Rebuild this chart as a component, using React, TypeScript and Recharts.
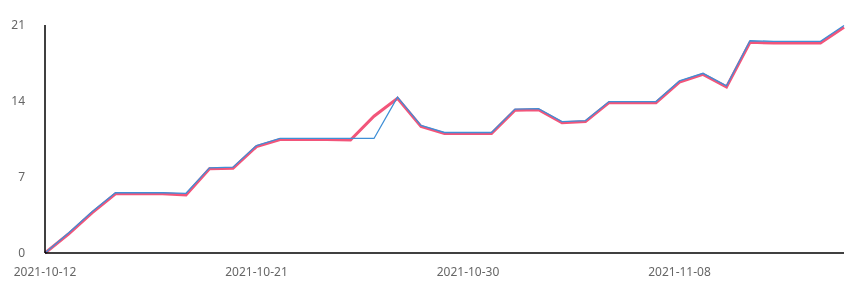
import { LineChart, Line, XAxis, YAxis } from "recharts"

const dates = [
    "2021-10-12", "2021-10-13", "2021-10-14", "2021-10-15", "2021-10-16", "2021-10-17", "2021-10-18",
    "2021-10-19", "2021-10-20", "2021-10-21", "2021-10-22", "2021-10-23", "2021-10-24", "2021-10-25",
    "2021-10-26", "2021-10-27", "2021-10-28", "2021-10-29", "2021-10-30", "2021-10-31", "2021-11-01",
    "2021-11-02", "2021-11-03", "2021-11-04", "2021-11-05", "2021-11-06", "2021-11-07", "2021-11-08",
    "2021-11-09", "2021-11-10", "2021-11-11", "2021-11-12", "2021-11-13", "2021-11-14", "2021-11-15",
]

// blue thin line
const blueValues = [
    0, 1.85, 3.8, 5.55, 5.55, 5.55, 5.5, 7.85, 7.9, 9.9, 10.55, 10.55, 10.55, 10.55,
    10.55, 14.35, 11.75, 11.1, 11.1, 11.1, 13.25, 13.3, 12.1, 12.2, 13.95, 13.95, 13.95, 15.85,
    16.55, 15.4, 19.55, 19.5, 19.5, 19.5, 20.95,
]

// pink thick line
const pinkValues = [
    0, 1.75, 3.7, 5.45, 5.45, 5.45, 5.35, 7.75, 7.8, 9.8, 10.45, 10.45, 10.45, 10.4,
    12.6, 14.25, 11.65, 11.0, 11.0, 11.0, 13.15, 13.2, 12.0, 12.1, 13.85, 13.85, 13.85, 15.75,
    16.45, 15.3, 19.4, 19.35, 19.35, 19.35, 20.8,
]

const yTicks = [0, 7, 14, 21]
const xTicks = ["2021-10-12", "2021-10-21", "2021-10-30", "2021-11-08"]

const data = dates.map((d, i) => ({ date: d, blue: blueValues[i], pink: pinkValues[i] }))

const tickStyle = { fill: "#666", fontSize: 12, fontFamily: "Noto Sans" }

export default function App() {
    return (
        <div style={{ position: "fixed", top: 0, left: 0 }}>
            <LineChart width={853} height={284} data={data} margin={{ top: 25, right: 9, bottom: 6, left: 0 }}>
                <XAxis
                    dataKey="date"
                    ticks={xTicks}
                    interval={0}
                    tickLine={false}
                    axisLine={{ stroke: "#000", strokeWidth: 1.5 }}
                    tick={tickStyle}
                    tickMargin={8}
                    height={25}
                    padding={{ left: 0, right: 0 }}
                />
                <YAxis
                    domain={[0, 21]}
                    ticks={yTicks}
                    tickLine={false}
                    axisLine={{ stroke: "#000", strokeWidth: 1.5 }}
                    tick={tickStyle}
                    tickMargin={14}
                    width={45}
                />
                <Line type="linear" dataKey="pink" stroke="#f2557a" strokeWidth={3} dot={false} isAnimationActive={false} />
                <Line type="linear" dataKey="blue" stroke="#3f8fd6" strokeWidth={1.3} dot={false} isAnimationActive={false} />
            </LineChart>
        </div>
    )
}
